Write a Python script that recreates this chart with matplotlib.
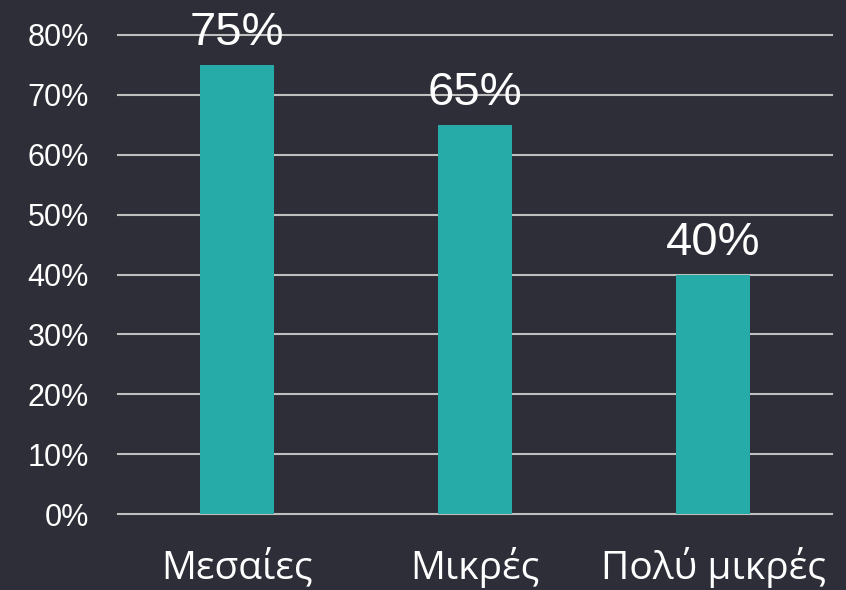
import matplotlib
matplotlib.use("Agg")
import matplotlib.pyplot as plt
from matplotlib.ticker import FuncFormatter

categories = ["Μεσαίες", "Μικρές", "Πολύ μικρές"]
values = [75, 65, 40]
yticks = [0, 10, 20, 30, 40, 50, 60, 70, 80]

bg = "#2E2E38"
bar_color = "#26ABA8"
grid_color = "#BFBFBF"

fig = plt.figure(figsize=(8.46, 5.9), dpi=100, facecolor=bg)
ax = fig.add_axes([118/846, 76/590, 714/846, 479/590])
ax.set_facecolor(bg)

x = list(range(len(categories)))
ax.bar(x, values, width=0.31, color=bar_color, zorder=3)
ax.set_xlim(-0.5, len(categories) - 0.5)
ax.set_ylim(0, 80)
ax.set_yticks(yticks)
ax.yaxis.set_major_formatter(FuncFormatter(lambda v, p: f"{int(v)}%"))
ax.grid(axis="y", color=grid_color, linewidth=1.5, zorder=1)
for line in ax.get_ygridlines():
    line.set_clip_on(False)
for s in ax.spines.values():
    s.set_visible(False)
ax.tick_params(axis="both", length=0)
ax.tick_params(axis="y", pad=21, labelsize=22, labelcolor="white")
for lab in ax.get_yticklabels():
    lab.set_fontfamily("Liberation Sans")
ax.set_xticks(x)
ax.set_xticklabels(categories, fontsize=28, color="white", fontfamily="Open Sans")
ax.tick_params(axis="x", pad=24)

for xi, v in zip(x, values):
    ax.annotate(f"{v}%", (xi, v), xytext=(0, 14), textcoords="offset points",
                ha="center", va="baseline", fontsize=34, color="white",
                fontfamily="Liberation Sans", zorder=4)

fig.savefig("out.png", dpi=100, facecolor=bg)
